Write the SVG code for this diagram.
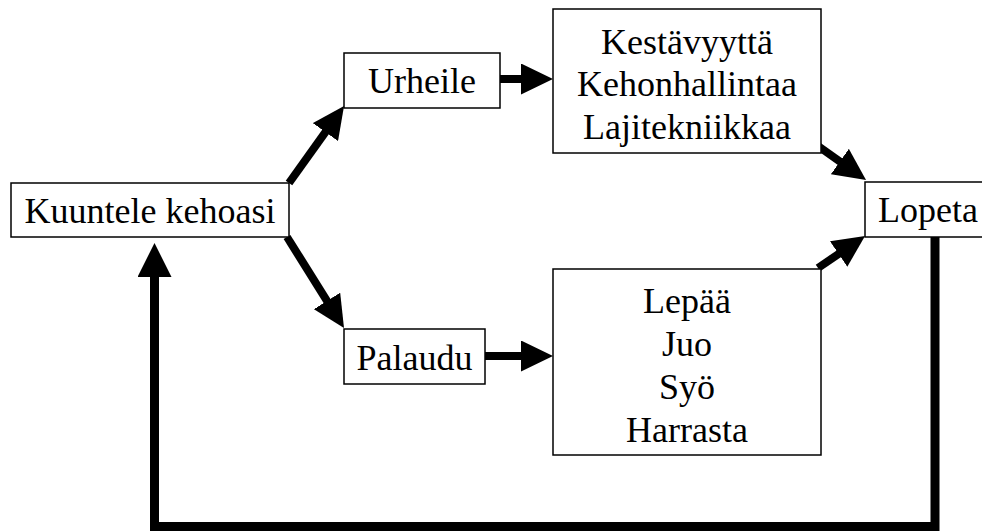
<svg xmlns="http://www.w3.org/2000/svg" width="982" height="531" viewBox="0 0 982 531">
<style>
.box{fill:#fff;stroke:#000;stroke-width:1.5}
.t{font-family:"Liberation Serif","Times New Roman",serif;font-size:36px;fill:#000;text-anchor:middle}
.c{fill:none;stroke:#000;stroke-width:8;stroke-linejoin:miter}
</style>
<defs>
<marker id="ah" markerUnits="userSpaceOnUse" markerWidth="32" markerHeight="31" refX="12" refY="15.5" orient="auto" viewBox="0 0 32 31">
<path d="M0,0 L32,15.5 L0,31 z" fill="#000"/>
</marker>
<marker id="ahL" markerUnits="userSpaceOnUse" markerWidth="34" markerHeight="34" refX="12" refY="17" orient="auto" viewBox="0 0 34 34">
<path d="M0,0 L34,17 L0,34 z" fill="#000"/>
</marker>
</defs>
<g id="connectors">
<line class="c" x1="289" y1="183" x2="332.4" y2="122.3" marker-end="url(#ah)"/>
<line class="c" x1="287" y1="237" x2="333.4" y2="311.1" marker-end="url(#ah)"/>
<line class="c" x1="500" y1="79" x2="533" y2="79" marker-end="url(#ah)"/>
<line class="c" x1="485" y1="356" x2="533" y2="356" marker-end="url(#ah)"/>
<line class="c" x1="818" y1="146" x2="849.7" y2="168.4" marker-end="url(#ah)"/>
<line class="c" x1="818" y1="268" x2="848.5" y2="247.2" marker-end="url(#ah)"/>
<path class="c" style="stroke-width:9" d="M935,237 L935,526.5 L154.5,526.5 L154.5,265" marker-end="url(#ahL)"/>
</g>
<g id="kuuntele">
<rect class="box" x="11" y="183" width="278" height="54"/>
<text class="t" x="150" y="223">Kuuntele kehoasi</text>
</g>
<g id="urheile">
<rect class="box" x="344" y="53" width="156" height="55"/>
<text class="t" x="422" y="93">Urheile</text>
</g>
<g id="palaudu">
<rect class="box" x="344" y="329" width="141" height="55"/>
<text class="t" x="414.5" y="370">Palaudu</text>
</g>
<g id="urheilu-sisalto">
<rect class="box" x="553" y="9" width="268" height="144"/>
<text class="t" x="687" y="54">Kestävyyttä</text>
<text class="t" x="687" y="96">Kehonhallintaa</text>
<text class="t" x="687" y="139">Lajitekniikkaa</text>
</g>
<g id="palautuminen-sisalto">
<rect class="box" x="553" y="269" width="268" height="186"/>
<text class="t" x="687" y="313">Lepää</text>
<text class="t" x="687" y="356">Juo</text>
<text class="t" x="687" y="399">Syö</text>
<text class="t" x="687" y="442">Harrasta</text>
</g>
<g id="lopeta">
<rect class="box" x="865" y="182" width="130" height="55"/>
<text class="t" x="878" y="222" style="text-anchor:start">Lopeta</text>
</g>
</svg>
